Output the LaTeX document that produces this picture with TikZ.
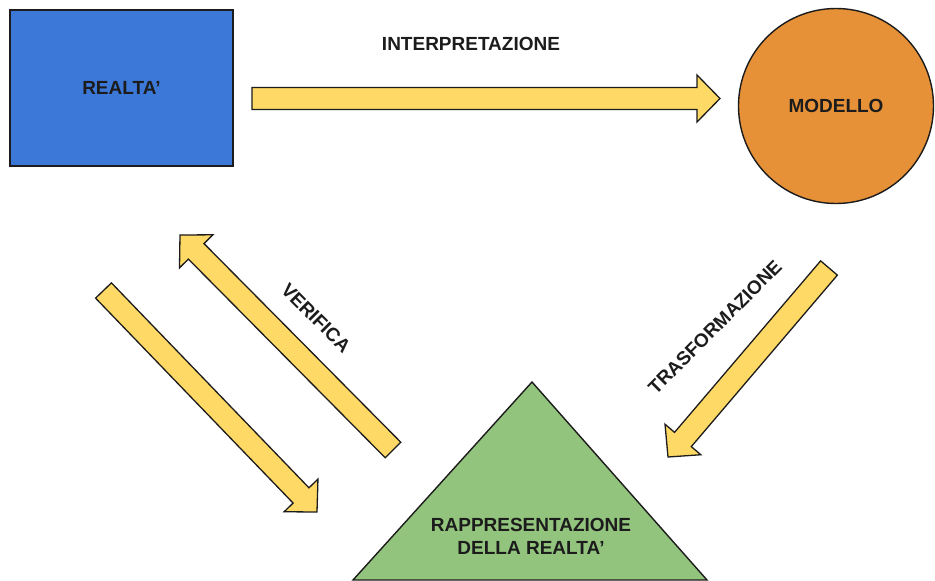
\documentclass[tikz,border=0pt]{standalone}
\usepackage{fontspec}
\setmainfont{Liberation Sans}
\usepackage{tikz}
\usetikzlibrary{calc}
\usepackage{xcolor}

\definecolor{realtablue}{HTML}{3C78D8}
\definecolor{modelloorange}{HTML}{E69138}
\definecolor{rapprgreen}{HTML}{93C47D}
\definecolor{arrowyellow}{HTML}{FFD966}
\definecolor{inkdark}{HTML}{1C1C1C}

\tikzset{
  shapeline/.style={draw=inkdark, line width=1.4pt},
  label/.style={font=\fontsize{19}{23}\selectfont\bfseries, text=inkdark, inner sep=0pt, align=center},
  fatarrow/.style={fill=arrowyellow, draw=inkdark, line width=1.3pt, line join=miter}
}

% fat arrow from #1 to #2
\newcommand{\fatarrow}[2]{%
  \coordinate (hb) at ($(#2)!23pt!(#1)$);
  \filldraw[fatarrow] ($(#1)!11pt!90:(#2)$) -- ($(hb)!11pt!90:(#2)$)
    -- ($(hb)!23.5pt!90:(#2)$) -- (#2) -- ($(hb)!23.5pt!-90:(#2)$)
    -- ($(hb)!11pt!-90:(#2)$) -- ($(#1)!11pt!-90:(#2)$) -- cycle;
}

\begin{document}
\begin{tikzpicture}[x=1pt, y=-1pt]
\useasboundingbox (0,0) rectangle (935,581);
\fill[white] (0,0) rectangle (935,581);

% Realta
\node[shapeline, fill=realtablue, minimum width=223, minimum height=156, label] (realta) at (121.5,88) {REALTA'};

% Modello
\node[shapeline, circle, fill=modelloorange, minimum size=195, label] (modello) at (836,106) {MODELLO};

% Rappresentazione
\filldraw[shapeline, fill=rapprgreen] (532,382) coordinate (apex) -- (707,580) -- (353,580) -- cycle;
\node[label] (rappr) at (531,536) {RAPPRESENTAZIONE\\DELLA REALTA'};

% Interpretazione
\coordinate (interp-s) at (252,98.5);
\coordinate (interp-e) at (720,98.5);
\fatarrow{interp-s}{interp-e}
\node[label] (interp) at (471,44) {INTERPRETAZIONE};

% Trasformazione
\coordinate (trasf-s) at (829,268);
\coordinate (trasf-e) at (668,457);
\fatarrow{trasf-s}{trasf-e}
\node[label, rotate=45] (trasf) at (715,327) {TRASFORMAZIONE};

% Verifica
\coordinate (verif-s) at (393,450);
\coordinate (verif-e) at (180,235);
\fatarrow{verif-s}{verif-e}
\node[label, rotate=-45] (verif) at (316,318) {VERIFICA};

% left arrow
\coordinate (down-s) at (103.5,290.5);
\coordinate (down-e) at (317,512);
\fatarrow{down-s}{down-e}
\end{tikzpicture}
\end{document}
